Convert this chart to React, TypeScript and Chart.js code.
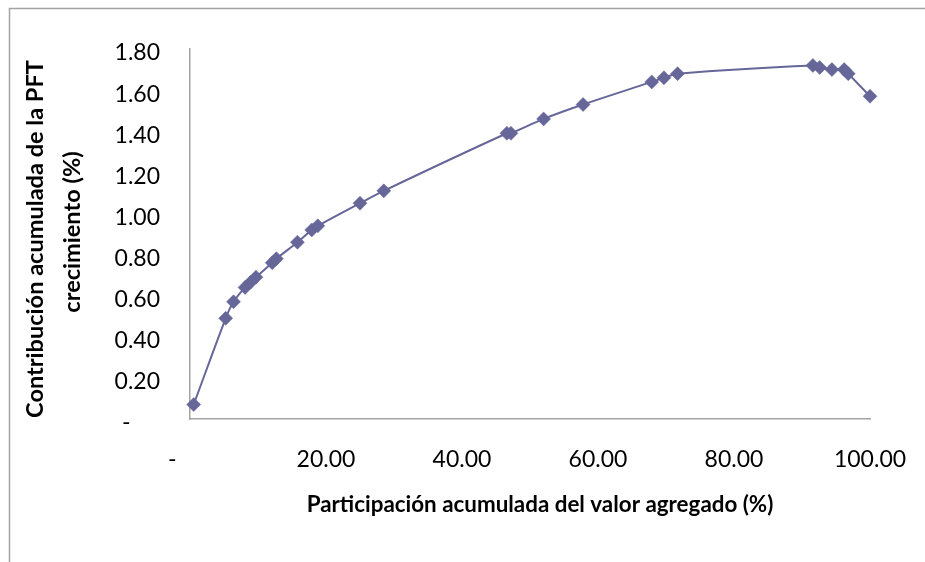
import { useEffect, useRef } from "react";
import { Chart, registerables } from "chart.js";

Chart.register(...registerables);

// Participación acumulada del valor agregado (%)
const participacion = [
  0.54, 5.25, 6.4, 8.1, 8.9, 9.7, 12.1, 12.7, 15.8, 17.9, 18.8, 25.0, 28.5,
  46.6, 47.2, 52.0, 57.8, 67.9, 69.7, 71.7, 91.6, 92.6, 94.4, 96.2, 96.8, 100.0,
];

// Contribución acumulada de la PFT al crecimiento (%)
const contribucion = [
  0.07, 0.49, 0.57, 0.64, 0.665, 0.69, 0.76, 0.78, 0.86, 0.92, 0.94, 1.05, 1.11,
  1.39, 1.39, 1.46, 1.53, 1.64, 1.66, 1.68, 1.72, 1.71, 1.7, 1.7, 1.68, 1.57,
];

const xAxisRange = [0, 100, 20]; // min, max, step
const yAxisRange = [0, 1.8, 0.2];
// accounting-style zero, padded on the right
const xZeroLabel = "-      ";
const yZeroLabel = "-     ";

const xTitle = "Participación acumulada del valor agregado (%)";
const yTitleLines = ["Contribución acumulada de la PFT", "crecimiento (%)"];

const FONT = "Lato, 'Open Sans', sans-serif";
const SERIES_COLOR = "#666699";
const FRAME_COLOR = "#a3a3a3";

const fmt = (v: number, zero: string) =>
  Math.abs(v) < 1e-9 ? zero : v.toFixed(2);

// Size a bold font so that the text spans the given width
function fitFont(ctx: CanvasRenderingContext2D, text: string, width: number) {
  ctx.font = `bold 100px ${FONT}`;
  const w = ctx.measureText(text).width;
  return (100 * width) / w;
}

const decorations = {
  id: "decorations",
  beforeDraw(chart: Chart) {
    const ctx = chart.ctx;
    ctx.save();
    ctx.strokeStyle = FRAME_COLOR;
    ctx.lineWidth = 1.5;
    ctx.beginPath();
    ctx.moveTo(9.5, chart.height);
    ctx.lineTo(9.5, 8.5);
    ctx.lineTo(chart.width, 8.5);
    ctx.stroke();
    ctx.restore();
  },
  afterDraw(chart: Chart) {
    const ctx = chart.ctx;
    ctx.save();
    ctx.fillStyle = "#000";
    ctx.textBaseline = "middle";
    ctx.textAlign = "center";

    const xs = fitFont(ctx, xTitle, 467);
    ctx.font = `bold ${xs}px ${FONT}`;
    ctx.fillText(xTitle, 540, 505);

    const ys = fitFont(ctx, yTitleLines[0], 358);
    ctx.font = `bold ${ys}px ${FONT}`;
    ctx.save();
    ctx.translate(35, 239);
    ctx.rotate(-Math.PI / 2);
    ctx.fillText(yTitleLines[0], 0, 0);
    ctx.restore();
    ctx.save();
    ctx.translate(72, 232);
    ctx.rotate(-Math.PI / 2);
    ctx.fillText(yTitleLines[1], 0, 0);
    ctx.restore();

    ctx.restore();
  },
};

export default function App() {
  const canvasRef = useRef<HTMLCanvasElement | null>(null);

  useEffect(() => {
    document.body.style.margin = "0";
    const canvas = canvasRef.current;
    if (!canvas) return;

    const points = participacion.map((x, i) => ({ x, y: contribucion[i] }));

    const chart = new Chart(canvas, {
      type: "scatter",
      data: {
        datasets: [
          {
            data: points,
            showLine: true,
            borderColor: SERIES_COLOR,
            backgroundColor: SERIES_COLOR,
            borderWidth: 2,
            tension: 0.35,
            pointStyle: "rectRot",
            pointRadius: 7,
            pointBorderWidth: 0.5,
            pointBorderColor: SERIES_COLOR,
            pointBackgroundColor: SERIES_COLOR,
            clip: false,
          },
        ],
      },
      options: {
        animation: false,
        responsive: false,
        devicePixelRatio: 1,
        layout: { padding: { top: 49, right: 55, bottom: 0, left: 0 } },
        plugins: {
          legend: { display: false },
          tooltip: { enabled: false },
        },
        scales: {
          x: {
            type: "linear",
            min: xAxisRange[0],
            max: xAxisRange[1],
            grid: { display: false, drawTicks: false },
            border: { display: true, color: FRAME_COLOR, width: 1.5 },
            ticks: {
              stepSize: xAxisRange[2],
              autoSkip: false,
              maxRotation: 0,
              padding: 27,
              color: "#000",
              font: { family: FONT, size: 23 },
              callback: (v) => fmt(Number(v), xZeroLabel),
            },
            afterFit: (s) => {
              s.height = 143;
              s.paddingLeft = 0;
              s.paddingRight = 0;
            },
          },
          y: {
            type: "linear",
            min: yAxisRange[0],
            max: yAxisRange[1],
            grid: { display: false, drawTicks: false },
            border: { display: true, color: FRAME_COLOR, width: 1.5 },
            ticks: {
              stepSize: yAxisRange[2],
              autoSkip: false,
              padding: 30,
              labelOffset: 4,
              color: "#000",
              font: { family: FONT, size: 23 },
              callback: (v) => fmt(Number(v), yZeroLabel),
            },
            afterFit: (s) => {
              s.width = 190;
              s.paddingTop = 0;
              s.paddingBottom = 0;
            },
          },
        },
      },
      plugins: [decorations],
    });

    return () => chart.destroy();
  }, []);

  return (
    <canvas
      ref={canvasRef}
      width={925}
      height={562}
      style={{ display: "block", width: 925, height: 562 }}
    />
  );
}
